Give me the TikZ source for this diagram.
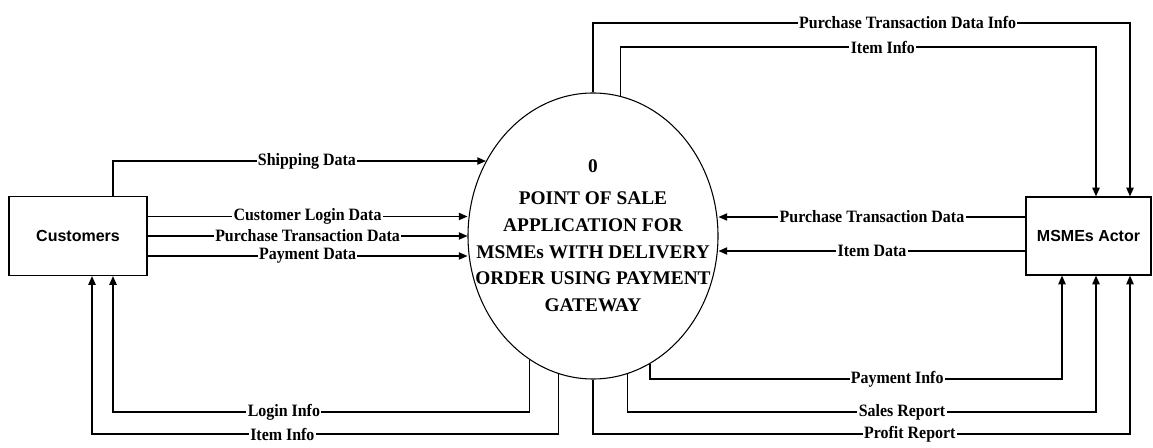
\documentclass[tikz,border=0pt]{standalone}
\usepackage{fontspec}
\setmainfont{Liberation Serif}
\newfontfamily\actorfont{Liberation Sans}
\newfontfamily\flowfont{Liberation Serif}[FakeStretch=0.92]
\usetikzlibrary{positioning,shapes.geometric,arrows.meta,calc}

\begin{document}
\begin{tikzpicture}[x=0.75pt,y=-0.75pt]
\tikzset{
    actor/.style={rectangle, draw=black, line width=0.9pt, minimum width=103.5pt, minimum height=59.25pt, font=\actorfont\bfseries\fontsize{12}{14}\selectfont},
    process/.style={ellipse, draw=black, line width=0.8pt, minimum width=187.5pt, minimum height=214.5pt, inner sep=0pt},
    processtext/.style={align=center, font=\bfseries\fontsize{14.5}{20}\selectfont},
    flow/.style={line width=0.9pt, -{Triangle[length=6.5pt,width=5.5pt]}},
    flowlabel/.style={fill=white, inner xsep=1pt, inner ysep=0pt, font=\flowfont\bfseries\fontsize{13}{14}\selectfont}
}
\useasboundingbox (0,0) rectangle (1153,448);
\node[actor] (customers) at (78,236) {Customers};
\node[process] (app) at (593,236) {};
\node[processtext] (appname) at (app.center) {0\\[4pt]POINT OF SALE\\APPLICATION FOR\\MSMEs WITH DELIVERY\\ORDER USING PAYMENT\\GATEWAY};
\node[actor, minimum width=93.75pt, minimum height=58.5pt] (msmes) at (1088.5,236) {MSMEs Actor};

\coordinate (rowtop) at (0,23);
\coordinate (rowtopb) at (0,47);
\coordinate (rowpay) at (0,379);
\coordinate (rowmid) at (0,412);
\coordinate (rowlow) at (0,434);

% Customers -> application
\coordinate (custlogin) at ($(customers.east)+(0,-19.5)$);
\coordinate (custpay) at ($(customers.east)+(0,20)$);
\draw[flow] ($(customers.north)+(35,0)$) |- node[flowlabel, pos=0.76] {Shipping Data} (app.145);
\draw[flow] (custlogin) -- node[flowlabel] {Customer Login Data} (custlogin -| app.west);
\draw[flow] (customers.east) -- node[flowlabel] {Purchase Transaction Data} (app.west);
\draw[flow] (custpay) -- node[flowlabel] {Payment Data} (custpay -| app.west);

% application -> Customers
\draw[flow] (app.243) -- (app.243 |- rowmid) -| node[flowlabel, pos=0.295] {Login Info} ($(customers.south)+(35,0)$);
\draw[flow] (app.256) -- (app.256 |- rowlow) -| node[flowlabel, pos=0.296] {Item Info} ($(customers.south)+(14,0)$);

% application -> MSMEs (top)
\draw[flow] (app.north) -- (app.north |- rowtop) -| node[flowlabel, pos=0.293] {Purchase Transaction Data Info} ($(msmes.north)+(41.5,0)$);
\draw[flow] (app.79) -- (app.79 |- rowtopb) -| node[flowlabel, pos=0.276] {Item Info} ($(msmes.north)+(7.5,0)$);

% MSMEs -> application
\coordinate (msmepurchase) at ($(msmes.west)+(0,-19)$);
\coordinate (msmeitem) at ($(msmes.west)+(0,15)$);
\draw[flow] (msmepurchase) -- node[flowlabel] {Purchase Transaction Data} (msmepurchase -| app.east);
\draw[flow] (msmeitem) -- node[flowlabel] {Item Data} (msmeitem -| app.east);

% application -> MSMEs (bottom)
\draw[flow] (app.294) -- (app.294 |- rowpay) -| node[flowlabel, pos=0.3] {Payment Info} ($(msmes.south)+(-26.5,0)$);
\draw[flow] (app.284) -- (app.284 |- rowmid) -| node[flowlabel, pos=0.293] {Sales Report} ($(msmes.south)+(7.5,0)$);
\draw[flow] (app.south) -- (app.south |- rowlow) -| node[flowlabel, pos=0.295] {Profit Report} ($(msmes.south)+(41.5,0)$);
\end{tikzpicture}
\end{document}
